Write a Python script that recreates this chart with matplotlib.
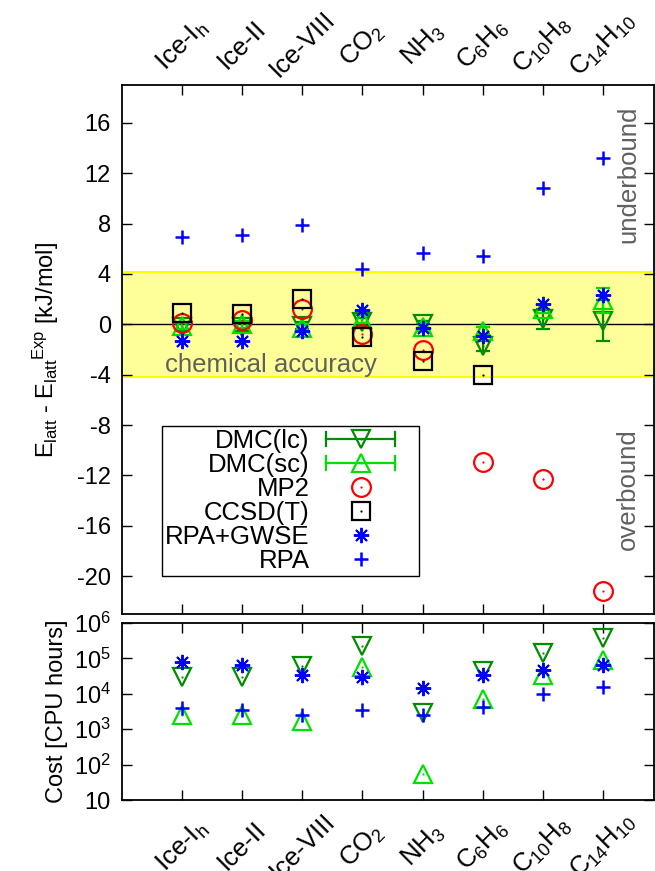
import numpy as np
import matplotlib
matplotlib.use("Agg")
import matplotlib.pyplot as plt
from matplotlib.lines import Line2D
from matplotlib.legend_handler import HandlerBase

plt.rcParams['font.family'] = ['Liberation Sans', 'DejaVu Sans']
plt.rcParams['mathtext.default'] = 'regular'

# ---------------- data ----------------
systems = ['Ice-I$_h$', 'Ice-II', 'Ice-VIII', 'CO$_2$', 'NH$_3$',
           'C$_6$H$_6$', 'C$_{10}$H$_8$', 'C$_{14}$H$_{10}$']

# lattice energy errors [kJ/mol]
dmc_lc = [-0.2, -0.2, -0.1, 0.2, 0.0, -1.7, 0.4, 0.3]
dmc_lc_err = [0.3, 0.3, 0.3, 0.3, 0.3, 0.4, 0.8, 1.6]
dmc_sc = [-0.1, 0.0, -0.3, 0.4, -0.2, -0.5, 1.2, 1.9]
dmc_sc_err = [0.3, 0.3, 0.3, 0.3, 0.3, 0.3, 0.3, 1.0]
mp2 = [0.1, 0.36, 1.2, -0.8, -2.0, -10.9, -12.3, -21.2]
ccsdt_sys = [0, 1, 2, 3, 4, 5]
ccsdt = [0.9, 0.8, 2.0, -1.0, -2.9, -4.0]
rpa_gwse = [-1.3, -1.3, -0.5, 1.1, -0.3, -0.9, 1.6, 2.3]
rpa = [6.9, 7.1, 7.9, 4.4, 5.7, 5.4, 10.8, 13.2]

# computational cost [CPU hours]
cost_dmc_lc = [3.0e4, 3.0e4, 6.0e4, 2.2e5, 2.9e3, 4.4e4, 1.45e5, 3.7e5]
cost_dmc_sc = [2.6e3, 2.6e3, 1.7e3, 5.6e4, 55, 7.0e3, 3.4e4, 9.0e4]
cost_rpa_gwse = [8.0e4, 6.5e4, 3.5e4, 2.9e4, 1.5e4, 3.4e4, 4.7e4, 6.5e4]
cost_rpa = [4.1e3, 3.5e3, 2.5e3, 3.6e3, 2.6e3, 4.3e3, 9.8e3, 1.6e4]

energy_ticks = [-20, -16, -12, -8, -4, 0, 4, 8, 12, 16]
cost_ticks = [10, 1e2, 1e3, 1e4, 1e5, 1e6]
cost_ticklabels = ['10', '10$^2$', '10$^3$', '10$^4$', '10$^5$', '10$^6$']
chem_acc = 4.184  # 1 kcal/mol in kJ/mol

# ---------------- styles ----------------
C_LC = '#008c00'
C_SC = '#00e000'
C_MP2 = '#ff0000'
C_CC = '#000000'
C_BLUE = '#0000ff'
GRAY = '#606060'
FS = 17
XFS = 18.5
GFS = 18.5
LFS = 18.5
ASTER = (8, 2, 0)

x = np.arange(len(systems))
xcc = np.array(ccsdt_sys)

fig = plt.figure(figsize=(6.55, 8.71), dpi=100)
W, H = 655.0, 871.0
ax1 = fig.add_axes([122 / W, 1 - 614 / H, 532 / W, 529 / H])
ax2 = fig.add_axes([122 / W, 1 - 800 / H, 532 / W, 177 / H])

# ---------------- top panel ----------------
ax1.axhspan(-chem_acc, chem_acc, facecolor='#ffff99', edgecolor='#ffff00',
            lw=1.5, zorder=0)
ax1.axhline(0, color='black', lw=1.0, zorder=1)

def dotted(ax, xs, ys, color, marker, ms, mew=1.6, z=3):
    main, = ax.plot(xs, ys, ls='none', marker=marker, ms=ms, mfc='none',
                    mec=color, mew=mew, zorder=z)
    ax.plot(xs, ys, ls='none', marker='o', ms=1.6, mfc=color,
            mec=color, mew=0, zorder=z)
    return main

eb_lc = ax1.errorbar(x, dmc_lc, yerr=dmc_lc_err, fmt='none', ecolor=C_LC,
                     elinewidth=1.6, capsize=5, capthick=1.6, zorder=3)
dotted(ax1, x, dmc_lc, C_LC, 'v', 12.5)
eb_sc = ax1.errorbar(x, dmc_sc, yerr=dmc_sc_err, fmt='none', ecolor=C_SC,
                     elinewidth=1.6, capsize=5, capthick=1.6, zorder=3)
dotted(ax1, x, dmc_sc, C_SC, '^', 12.5)
h_mp2 = dotted(ax1, x, mp2, C_MP2, 'o', 13.5)
h_cc = dotted(ax1, xcc, ccsdt, C_CC, 's', 13)
h_gw, = ax1.plot(x, rpa_gwse, ls='none', marker=ASTER, ms=11, mec=C_BLUE,
                 mew=1.4, zorder=4)
h_rpa, = ax1.plot(x, rpa, ls='none', marker='+', ms=10, mec=C_BLUE,
                  mew=1.8, zorder=4)

ax1.set_xlim(-1, 7.85)
ax1.set_ylim(-23, 19)
ax1.set_yticks(energy_ticks)
ax1.set_yticklabels([str(v) for v in energy_ticks])
ax1.set_xticks(x)
ax1.tick_params(axis='both', direction='in', length=7, width=1, labelsize=FS,
                top=True, right=True, bottom=True, left=True,
                labelbottom=False, labeltop=True)
ax1.tick_params(axis='y', pad=8)
ax1.tick_params(axis='x', pad=29, labelsize=XFS)
ax1.set_xticklabels(systems, rotation=45, ha='center', va='center',
                    rotation_mode='anchor')
ax1.set_ylabel('E$_{latt}$ - E$_{latt}$$^{Exp}$ [kJ/mol]', fontsize=FS,
               labelpad=11)

ax1.text(-0.28, -3.75, 'chemical accuracy', color=GRAY, fontsize=GFS,
         ha='left', va='baseline', zorder=2)
ax1.text(7.42, 11.9, 'underbound', color=GRAY, fontsize=GFS, rotation=90,
         ha='center', va='center')
ax1.text(7.42, -13.1, 'overbound', color=GRAY, fontsize=GFS, rotation=90,
         ha='center', va='center')

# legend: gnuplot-like keys (horizontal error bars, right padding)
RPAD = 15  # px of empty space to the right of each key sample

class Key(HandlerBase):
    def __init__(self, color, marker, ms, mew=1.6, err=False, dot=True):
        super().__init__()
        self.c, self.m, self.ms, self.mew = color, marker, ms, mew
        self.err, self.dot = err, dot

    def create_artists(self, legend, orig_handle, xdescent, ydescent,
                       width, height, fontsize, trans):
        y = height / 2 - ydescent
        x0, x1 = -xdescent, width - xdescent - RPAD
        xc = (x0 + x1) / 2
        arts = []
        if self.err:
            cap = 5
            arts += [Line2D([x0, x1], [y, y], color=self.c, lw=1.6),
                     Line2D([x0, x0], [y - cap, y + cap], color=self.c, lw=1.6),
                     Line2D([x1, x1], [y - cap, y + cap], color=self.c, lw=1.6)]
        arts.append(Line2D([xc], [y], marker=self.m, ms=self.ms, mfc='none',
                           mec=self.c, mew=self.mew, ls='none'))
        if self.dot:
            arts.append(Line2D([xc], [y], marker='o', ms=1.6, mfc=self.c,
                               mew=0, ls='none'))
        for a in arts:
            a.set_transform(trans)
        return arts

handles = [eb_lc, eb_sc, h_mp2, h_cc, h_gw, h_rpa]
labels = ['DMC(lc)', 'DMC(sc)', 'MP2', 'CCSD(T)', 'RPA+GWSE', 'RPA']
hmap = {eb_lc: Key(C_LC, 'v', 12.5, err=True),
        eb_sc: Key(C_SC, '^', 12.5, err=True),
        h_mp2: Key(C_MP2, 'o', 13.5),
        h_cc: Key(C_CC, 's', 13),
        h_gw: Key(C_BLUE, ASTER, 11, mew=1.4, dot=False),
        h_rpa: Key(C_BLUE, '+', 10, mew=1.8, dot=False)}
lfs_px = LFS * 100 / 72
leg = ax1.legend(handles, labels, loc='upper left',
                 bbox_to_anchor=(0.075, 0.356), borderaxespad=0,
                 markerfirst=False, fontsize=LFS, labelspacing=0.0,
                 handlelength=(74 + RPAD) / lfs_px, handletextpad=0.66,
                 borderpad=0.12, fancybox=False, framealpha=1,
                 edgecolor='black', handler_map=hmap)
leg.get_frame().set_linewidth(1.0)
leg.set_zorder(6)

# ---------------- bottom panel ----------------
ax2.set_yscale('log')
dotted(ax2, x, cost_dmc_lc, C_LC, 'v', 12.5)
dotted(ax2, x, cost_dmc_sc, C_SC, '^', 12.5)
ax2.plot(x, cost_rpa_gwse, ls='none', marker=ASTER, ms=11, mec=C_BLUE,
         mew=1.4, zorder=4)
ax2.plot(x, cost_rpa, ls='none', marker='+', ms=10, mec=C_BLUE, mew=1.8,
         zorder=4)
ax2.set_xlim(-1, 7.85)
ax2.set_ylim(10, 1e6)
ax2.set_yticks(cost_ticks)
ax2.set_yticklabels(cost_ticklabels)
ax2.minorticks_off()
ax2.set_xticks(x)
ax2.tick_params(axis='both', direction='in', length=7, width=1, labelsize=FS,
                top=True, right=True, bottom=True, left=True)
ax2.tick_params(axis='y', pad=8)
ax2.tick_params(axis='x', pad=33, labelsize=XFS)
ax2.set_xticklabels(systems, rotation=45, ha='center', va='center',
                    rotation_mode='anchor')
ax2.set_ylabel('Cost [CPU hours]', fontsize=FS, labelpad=4)

for ax in (ax1, ax2):
    for s in ax.spines.values():
        s.set_linewidth(1.3)

fig.savefig('out.png', dpi=100)
